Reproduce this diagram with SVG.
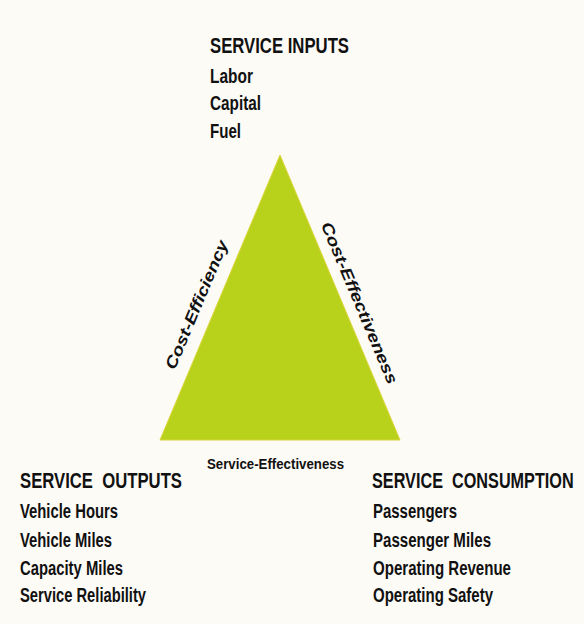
<svg xmlns="http://www.w3.org/2000/svg" width="584" height="624" viewBox="0 0 584 624">
<style>
text{font-family:"Liberation Sans Narrow","Liberation Sans",Arial,sans-serif;font-weight:bold;fill:#111;}
.h{font-size:22px;}
.b{font-size:20px;}
.e{font-size:16px;}
.s{font-size:15px;}
</style>
<rect width="584" height="624" fill="#fdfbf6"/>
<g id="triangle">
<polygon points="280,155 160,440 400,440" fill="#b8d21c" stroke="#dcd43a" stroke-width="1"/>
</g>
<g id="inputs">
<text class="h" x="210" y="53" textLength="139" lengthAdjust="spacingAndGlyphs">SERVICE INPUTS</text>
<text class="b" x="210" y="83" textLength="43" lengthAdjust="spacingAndGlyphs">Labor</text>
<text class="b" x="210" y="110" textLength="51" lengthAdjust="spacingAndGlyphs">Capital</text>
<text class="b" x="210" y="138" textLength="31" lengthAdjust="spacingAndGlyphs">Fuel</text>
</g>
<g id="outputs">
<text class="h" x="20" y="488" textLength="162" lengthAdjust="spacingAndGlyphs" xml:space="preserve">SERVICE  OUTPUTS</text>
<text class="b" x="20" y="518" textLength="98" lengthAdjust="spacingAndGlyphs">Vehicle Hours</text>
<text class="b" x="20" y="547" textLength="92" lengthAdjust="spacingAndGlyphs">Vehicle Miles</text>
<text class="b" x="20" y="575" textLength="103" lengthAdjust="spacingAndGlyphs">Capacity Miles</text>
<text class="b" x="20" y="602" textLength="126" lengthAdjust="spacingAndGlyphs">Service Reliability</text>
</g>
<g id="consumption">
<text class="h" transform="translate(372,488) scale(0.738,1)" xml:space="preserve">SERVICE  CONSUMPTION</text>
<text class="b" x="373" y="518" textLength="84" lengthAdjust="spacingAndGlyphs">Passengers</text>
<text class="b" x="373" y="547" textLength="118" lengthAdjust="spacingAndGlyphs">Passenger Miles</text>
<text class="b" x="373" y="575" textLength="138" lengthAdjust="spacingAndGlyphs">Operating Revenue</text>
<text class="b" x="373" y="602" textLength="120" lengthAdjust="spacingAndGlyphs">Operating Safety</text>
</g>
<g id="connectors">
<text class="e" transform="translate(197,305) rotate(-67.2)" text-anchor="middle" dy="5" font-style="italic" textLength="138" lengthAdjust="spacingAndGlyphs">Cost-Efficiency</text>
<text class="e" transform="translate(359,303) rotate(67.2)" text-anchor="middle" dy="5" font-style="italic" textLength="174" lengthAdjust="spacingAndGlyphs">Cost-Effectiveness</text>
<text class="s" x="207" y="469" textLength="137" lengthAdjust="spacingAndGlyphs">Service-Effectiveness</text>
</g>
</svg>
